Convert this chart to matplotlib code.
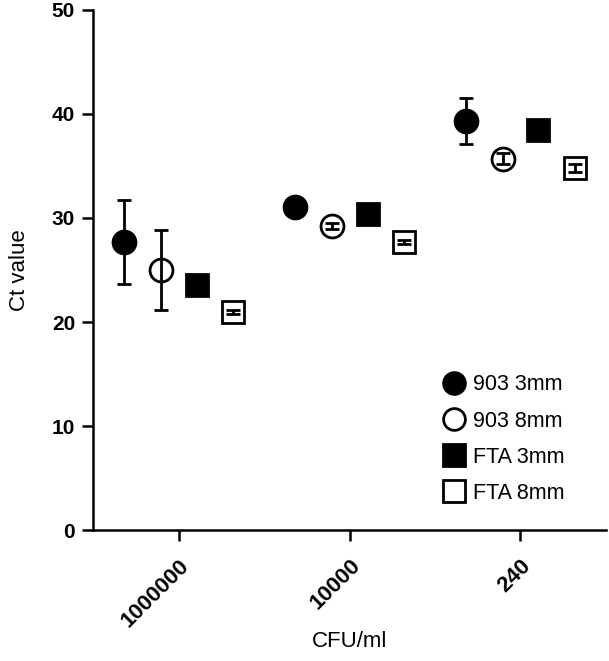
import numpy as np
import matplotlib.pyplot as plt

plt.rcParams['font.family'] = ['Liberation Sans', 'DejaVu Sans']

# Data
categories = ['1000000', '10000', '240']
series_names = ['903 3mm', '903 8mm', 'FTA 3mm', 'FTA 8mm']
mean_903_3 = [27.7, 31.1, 39.3]
err_903_3 = [4.0, 0.2, 2.2]
mean_903_8 = [25.0, 29.2, 35.7]
err_903_8 = [3.8, 0.3, 0.5]
mean_fta_3 = [23.6, 30.4, 38.5]
err_fta_3 = [0.3, 0.3, 0.5]
mean_fta_8 = [21.0, 27.7, 34.8]
err_fta_8 = [0.2, 0.2, 0.4]

means = [mean_903_3, mean_903_8, mean_fta_3, mean_fta_8]
errs = [err_903_3, err_903_8, err_fta_3, err_fta_8]
markers = ['o', 'o', 's', 's']
faces = ['black', 'white', 'black', 'white']
offsets = [-0.32, -0.105, 0.105, 0.32]

fig = plt.figure(figsize=(6.09, 6.61), dpi=100)
ax = fig.add_axes([0.153, 0.198, 0.842, 0.787])

x = np.arange(len(categories))
for m, e, mk, fc, off, name in zip(means, errs, markers, faces, offsets, series_names):
    ax.plot(x + off, m, linestyle='none', marker=mk, markersize=16.5,
            markerfacecolor=fc, markeredgecolor='black', markeredgewidth=2,
            label=name, zorder=2)
    ax.errorbar(x + off, m, yerr=e, fmt='none', ecolor='black', elinewidth=2,
                capsize=5, capthick=2, zorder=3)

ax.set_xlim(-0.5, 2.5)
ax.set_ylim(0, 50)
ax.set_yticks([0, 10, 20, 30, 40, 50])
ax.set_xticks(x)
ax.set_xticklabels(categories, rotation=45, ha='right', rotation_mode='anchor')

for s in ['top', 'right']:
    ax.spines[s].set_visible(False)
for s in ['left', 'bottom']:
    ax.spines[s].set_linewidth(1.8)
ax.tick_params(width=1.8, length=8)
ax.tick_params(axis='y', labelsize=15, pad=5)
ax.tick_params(axis='x', labelsize=16, pad=10)
for lbl in ax.get_xticklabels() + ax.get_yticklabels():
    lbl.set_fontweight('bold')

ax.set_ylabel('Ct value', fontsize=16, labelpad=16)
ax.set_xlabel('CFU/ml', fontsize=16, labelpad=0)

ax.legend(loc='center left', bbox_to_anchor=(0.645, 0.175), frameon=False, fontsize=15.5,
          handletextpad=0.4, labelspacing=0.7, handlelength=1.0,
          markerscale=0.95)

fig.savefig('out.png', dpi=100)
